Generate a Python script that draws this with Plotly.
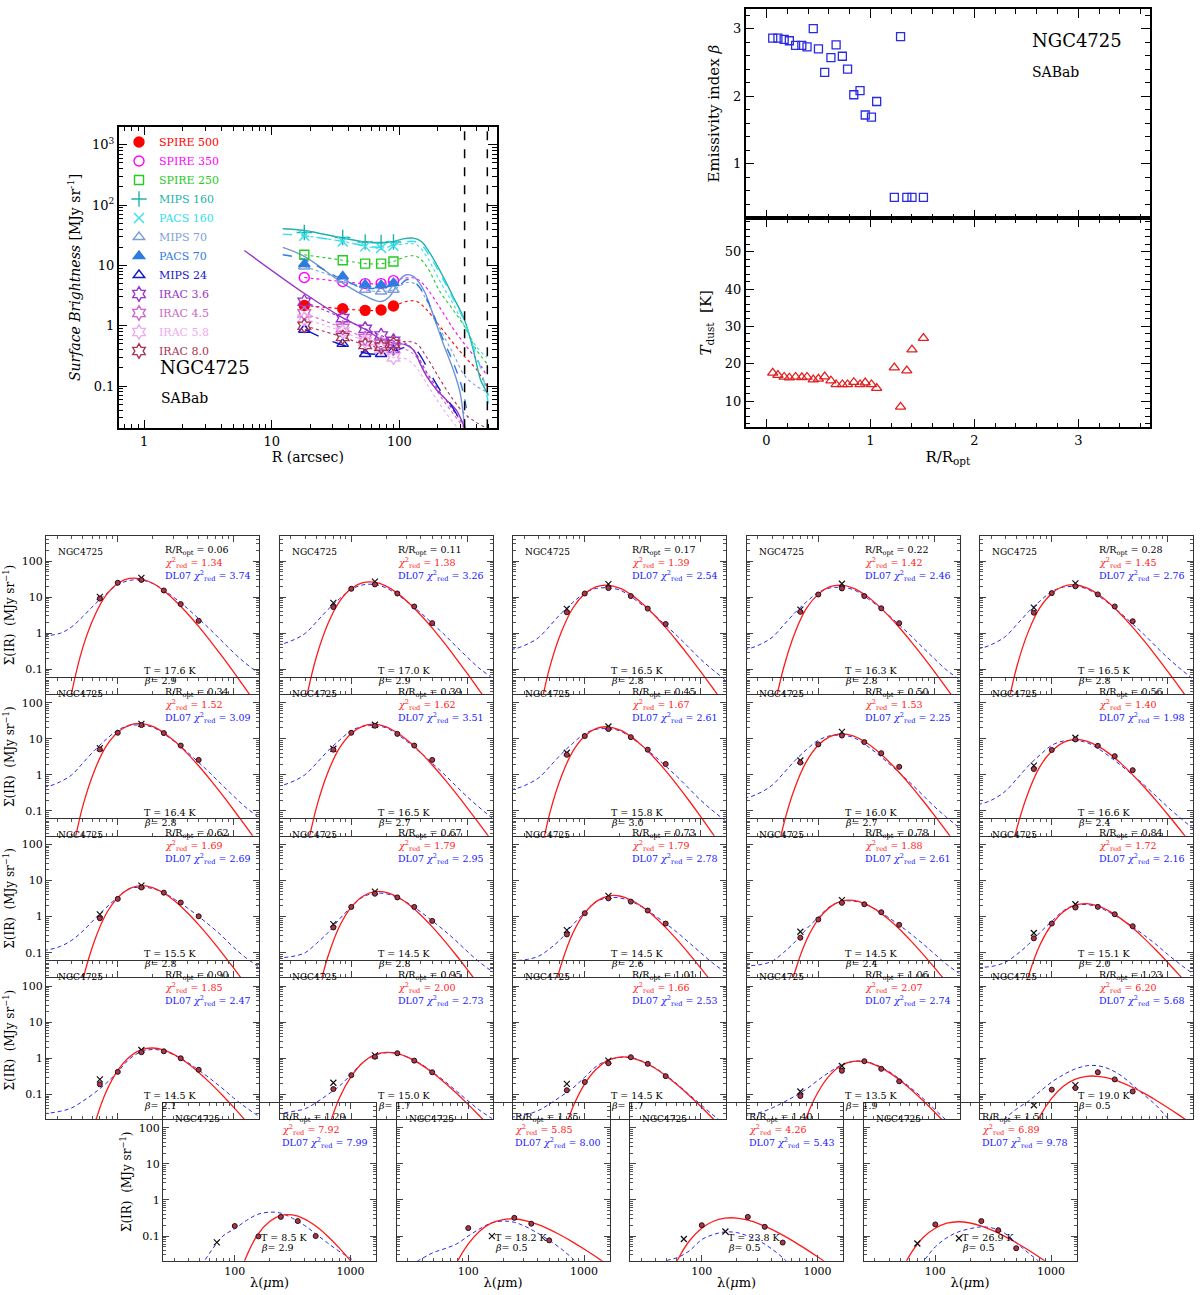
import plotly.graph_objects as go

W, H = 1200, 1295
FONT = "DejaVu Serif"

# ======================= top-left: radial profiles =======================
PROF_R = [18, 36, 54, 72, 90]
SB_SPIRE500 = [2.17, 1.91, 1.80, 1.82, 2.12]
SB_SPIRE350 = [6.3, 5.4, 5.0, 5.0, 5.6]
SB_SPIRE250 = [15.0, 12.2, 10.7, 10.7, 11.6]
SB_MIPS160 = [35.2, 29.1, 24.4, 24.1, 24.4]
SB_PACS160 = [31.0, 25.0, 20.7, 19.4, 21.2]
SB_MIPS70 = [9.6, 5.8, 3.95, 3.7, 3.95]
SB_PACS70 = [10.5, 6.6, 4.8, 4.7, 5.1]
SB_MIPS24 = [0.86, 0.50, 0.34, 0.34, 0.39]
SB_IRAC36 = [2.5, 1.34, 0.89, 0.69, 0.56]
SB_IRAC45 = [1.6, 0.92, 0.62, 0.50, 0.42]
SB_IRAC58 = [1.3, 0.80, 0.55, 0.42, 0.30]
SB_IRAC80 = [1.0, 0.65, 0.48, 0.45, 0.50]

EXT_R = [114, 137, 164, 208, 264, 324, 402, 485]
EXT_SPIRE500 = [2.53, 2.53, 1.84, 0.98, 0.52, 0.31, 0.19, 0.10]
EXT_SPIRE350 = [6.2, 6.0, 4.2, 2.0, 0.9, 0.5, 0.28, 0.15]
EXT_SPIRE250 = [14.1, 14.1, 9.6, 3.7, 1.84, 0.98, 0.4, 0.24]
EXT_PACS160 = [23, 22, 14, 5.5, 2.3, 1.0, 0.45, 0.3]
EXT_MIPS70 = [5.2, 4.8, 2.6, 0.9, 0.35, 0.15, 0.1, 0.08]
EXT_IRAC36 = [0.5, 0.33, 0.17, 0.08, 0.04, 0.022, 0.012, 0.008]
EXT_IRAC45 = [0.4, 0.3, 0.16, 0.07, 0.035, 0.02, 0.012, 0.008]
EXT_IRAC58 = [0.28, 0.2, 0.11, 0.05, 0.025, 0.015, 0.01, 0.007]
EXT_IRAC80 = [0.55, 0.5, 0.3, 0.13, 0.06, 0.035, 0.025, 0.02]

P160_R = [12.2, 18, 36, 55, 72, 91, 107, 129, 149, 174, 220, 264, 324, 380, 434, 470, 500]
MIPS160_PROF = [40.5, 38, 28.4, 24.4, 23.5, 25, 27.6, 28.4, 25, 16, 6.6, 3.06, 1.26, 0.4, 0.126, 0.09, 0.07]
PACS160_PROF = [33, 31, 25, 21, 20, 22, 24, 25, 22, 14, 6, 2.8, 1.2, 0.45, 0.2, 0.1, 0.05]
P70_R = [12.2, 18, 36, 55, 72, 84, 101, 114, 129, 155, 186, 220, 264, 300, 326, 345]
MIPS70_PROF = [19.9, 14.1, 5.1, 3.06, 2.53, 3.06, 5.8, 7.0, 6.6, 3.95, 1.43, 0.52, 0.19, 0.077, 0.021, 0.01]
PACS70_PROF = [15, 12.5, 5.8, 4.2, 4.3, 4.5, 4.8, 5.8, 5.5, 3.5, 1.5, 0.6, 0.25, 0.12, 0.06, 0.03]
IRAC36_R = [6.1, 18.2, 36.3, 54.7, 72.5, 91, 114, 129, 145, 164, 196, 234, 280, 326]
IRAC36_PROF = [17.7, 3.39, 1.34, 0.86, 0.59, 0.52, 0.48, 0.4, 0.24, 0.145, 0.087, 0.059, 0.04, 0.02]
MIPS24_R = [18.2, 27, 36, 55, 72.5, 91, 107, 129, 145, 174, 208, 249, 300, 326]
MIPS24_PROF = [0.86, 0.59, 0.48, 0.35, 0.34, 0.375, 0.43, 0.43, 0.33, 0.164, 0.087, 0.052, 0.027, 0.02]
APERTURE_R = [325, 490]

# ======================= top-right: beta and T profiles =======================
R_OPT = [0.06, 0.11, 0.17, 0.22, 0.28, 0.34, 0.39, 0.45, 0.50, 0.56,
         0.62, 0.67, 0.73, 0.78, 0.84, 0.90, 0.95, 1.01, 1.06, 1.23,
         1.29, 1.35, 1.40, 1.51]
BETA_FIT = [2.86, 2.86, 2.84, 2.82, 2.75, 2.75, 2.73, 3.0, 2.70, 2.35,
            2.57, 2.76, 2.59, 2.40, 2.02, 2.08, 1.72, 1.69, 1.92, 0.50,
            2.88, 0.50, 0.50, 0.50]
T_DUST = [17.6, 17.0, 16.5, 16.3, 16.5, 16.4, 16.5, 15.8, 16.0, 16.6,
          15.5, 14.5, 14.5, 14.5, 15.1, 14.5, 15.0, 14.5, 13.5, 19.0,
          8.5, 18.2, 23.8, 26.9]

# ======================= SED panels =======================
BETA_LABEL = [2.9, 2.9, 2.8, 2.8, 2.8, 2.8, 2.7, 3.0, 2.7, 2.4,
              2.8, 2.8, 2.6, 2.4, 2.0, 2.1, 1.7, 1.7, 1.9, 0.5,
              2.9, 0.5, 0.5, 0.5]
CHI2_MBB = [1.34, 1.38, 1.39, 1.42, 1.45, 1.52, 1.62, 1.67, 1.53, 1.40,
            1.69, 1.79, 1.79, 1.88, 1.72, 1.85, 2.00, 1.66, 2.07, 6.20,
            7.92, 5.85, 4.26, 6.89]
CHI2_DL07 = [3.74, 3.26, 2.54, 2.46, 2.76, 3.09, 3.51, 2.61, 2.25, 1.98,
             2.69, 2.95, 2.78, 2.61, 2.16, 2.47, 2.73, 2.53, 2.74, 5.68,
             7.99, 8.00, 5.43, 9.78]
PHOT_WL = [70, 100, 160, 250, 350, 500]
MIPS_WL = [70, 160]
SED_PHOT = [
    [9.1, 25, 30, 15.3, 6.4, 2.2], [5.3, 17, 22.5, 12.6, 5.5, 1.9],
    [3.8, 12.6, 17.8, 10.7, 4.8, 1.8], [3.9, 11.8, 17.4, 10.7, 4.9, 1.9],
    [3.7, 12.9, 20, 11.9, 5.5, 2.15], [5.1, 14.7, 24, 14.4, 6.5, 2.6],
    [5.0, 14.7, 23, 13.7, 6.5, 2.6], [3.6, 11.9, 18.7, 11.1, 5.0, 2.0],
    [2.2, 7.0, 12.3, 8.1, 4.0, 1.67], [1.45, 4.9, 9.6, 6.4, 3.3, 1.35],
    [0.9, 3.1, 6.4, 4.6, 2.45, 1.02], [0.5, 1.85, 4.3, 3.4, 1.85, 0.76],
    [0.32, 1.24, 3.2, 2.6, 1.47, 0.64], [0.26, 0.83, 2.4, 2.2, 1.32, 0.59],
    [0.25, 0.64, 1.78, 1.86, 1.16, 0.54], [0.19, 0.42, 1.47, 1.56, 1.0, 0.48],
    [0.14, 0.34, 1.1, 1.38, 0.86, 0.41], [0.13, 0.22, 0.73, 1.07, 0.70, 0.32],
    [0.09, None, 0.45, 0.83, 0.51, 0.23], [None, 0.135, 0.15, 0.41, 0.26, 0.12],
    [None, 0.19, 0.098, 0.34, 0.26, 0.10], [None, 0.166, None, 0.32, 0.22, 0.076],
    [None, 0.2, None, 0.34, 0.18, 0.066], [None, 0.21, None, 0.26, 0.145, 0.046],
]
SED_MIPS = [
    [10.2, 34], [6.9, 27], [4.7, 23], [4.5, 23.5], [5.1, 24], [5.5, 26],
    [5.3, 24.5], [4.1, 22], [2.5, 15.5], [1.8, 10.7], [1.15, 7.2], [0.62, 4.9],
    [0.42, 3.75], [0.38, 2.85], [0.35, 2.2], [0.26, 1.7], [0.21, 1.2], [0.195, 0.86],
    [0.12, 0.61], [0.05, 0.18], [0.067, None], [None, 0.10], [0.083, 0.134], [0.062, 0.087],
]
MODEL_WL = [20, 25, 32, 40, 50, 63, 79, 100, 126, 158, 200, 251, 316, 398, 501,
            631, 794, 1000, 1259, 1585, 1995]
N = None
MBB_FIT = [
    [N, N, 0.00045, 0.023, 0.41, 3.0, 11.1, 23.8, 32.9, 32.2, 24.2, 14.8, 7.7, 3.57, 1.52, 0.605, 0.23, 0.084, 0.030, 0.0104, 0.0036],
    [N, N, 0.00017, 0.0109, 0.222, 1.85, 7.5, 17.3, 25.1, 25.9, 20.2, 12.7, 6.8, 3.2, 1.38, 0.553, 0.211, 0.078, 0.0277, 0.0097, 0.0034],
    [N, N, N, 0.0049, 0.118, 1.11, 4.99, 12.3, 19.5, 21.5, 17.7, 11.7, 6.5, 3.18, 1.42, 0.587, 0.231, 0.087, 0.0319, 0.0115, 0.0041],
    [N, N, N, 0.0045, 0.105, 1.05, 4.85, 12.1, 19.4, 21.5, 17.8, 11.8, 6.6, 3.22, 1.44, 0.595, 0.235, 0.089, 0.0325, 0.0117, 0.0042],
    [N, N, N, 0.005, 0.121, 1.14, 5.1, 12.6, 20.0, 22.0, 18.1, 12.0, 6.65, 3.25, 1.45, 0.60, 0.236, 0.089, 0.0326, 0.0118, 0.0042],
    [N, N, N, 0.0058, 0.14, 1.33, 6.05, 15.1, 24.1, 26.7, 22.0, 14.5, 8.1, 3.95, 1.76, 0.73, 0.287, 0.108, 0.0396, 0.0143, 0.005],
    [N, N, N, 0.0051, 0.124, 1.2, 5.5, 14.0, 22.6, 25.5, 21.5, 14.5, 8.3, 4.14, 1.88, 0.80, 0.321, 0.124, 0.0466, 0.0171, 0.0063],
    [N, N, N, 0.0033, 0.0897, 0.935, 4.53, 11.9, 19.4, 21.5, 17.7, 11.5, 6.27, 2.99, 1.29, 0.515, 0.195, 0.0706, 0.0248, 0.0085, 0.003],
    [N, N, N, 0.0014, 0.040, 0.452, 2.34, 6.6, 11.5, 13.7, 12.1, 8.4, 4.9, 2.51, 1.16, 0.497, 0.201, 0.0782, 0.0294, 0.0108, 0.004],
    [N, N, N, 0.0013, 0.0331, 0.341, 1.69, 4.57, 7.94, 9.6, 8.67, 6.27, 3.82, 2.05, 1.0, 0.455, 0.196, 0.081, 0.0326, 0.0128, 0.005],
    [N, N, N, 0.00056, 0.0181, 0.215, 1.16, 3.36, 5.97, 7.2, 6.37, 4.43, 2.56, 1.30, 0.59, 0.249, 0.099, 0.0378, 0.0139, 0.005, 0.0018],
    [N, N, N, N, 0.00514, 0.0794, 0.531, 1.82, 3.66, 4.9, 4.7, 3.48, 2.12, 1.11, 0.519, 0.223, 0.0902, 0.0348, 0.0129, 0.0047, 0.0017],
    [N, N, N, N, 0.0031, 0.0499, 0.349, 1.26, 2.64, 3.70, 3.72, 2.88, 1.84, 1.01, 0.493, 0.222, 0.094, 0.0379, 0.0148, 0.0056, 0.0021],
    [N, N, N, N, 0.00178, 0.0301, 0.221, 0.832, 1.83, 2.69, 2.82, 2.30, 1.53, 0.879, 0.451, 0.212, 0.0942, 0.0398, 0.0162, 0.0065, 0.0026],
    [N, N, N, N, 0.00143, 0.0229, 0.163, 0.604, 1.37, 2.07, 2.29, 1.97, 1.40, 0.865, 0.479, 0.245, 0.118, 0.0543, 0.0242, 0.0105, 0.0046],
    [N, N, N, N, 0.0008, 0.0146, 0.114, 0.461, 1.09, 1.71, 1.93, 1.68, 1.20, 0.738, 0.406, 0.205, 0.0973, 0.0441, 0.0192, 0.0082, 0.0035],
    [N, N, N, N, 0.0006, 0.0104, 0.0791, 0.313, 0.76, 1.24, 1.46, 1.35, 1.03, 0.679, 0.403, 0.221, 0.114, 0.0562, 0.0269, 0.0125, 0.0058],
    [N, N, N, N, 0.00026, 0.0051, 0.0443, 0.196, 0.507, 0.873, 1.08, 1.03, 0.807, 0.545, 0.328, 0.182, 0.0946, 0.047, 0.0225, 0.0105, 0.0049],
    [N, N, N, N, N, 0.0022, 0.0231, 0.118, 0.34, 0.63, 0.818, 0.804, 0.637, 0.428, 0.254, 0.137, 0.0695, 0.0334, 0.0155, 0.007, 0.0032],
    [N, N, N, N, N, 0.0048, 0.0247, 0.0787, 0.168, 0.261, 0.316, 0.317, 0.276, 0.215, 0.155, 0.106, 0.0687, 0.0432, 0.0265, 0.016, 0.0095],
    [N, N, N, N, N, N, 0.00016, 0.00324, 0.027, 0.11, 0.252, 0.372, 0.384, 0.301, 0.189, 0.101, 0.0478, 0.0206, 0.0083, 0.0032, 0.0012],
    [N, N, N, N, N, 0.003, 0.0176, 0.061, 0.139, 0.227, 0.287, 0.297, 0.265, 0.21, 0.154, 0.105, 0.0692, 0.0438, 0.027, 0.0163, 0.0098],
    [N, N, N, 0.00045, 0.0045, 0.0243, 0.0766, 0.164, 0.257, 0.313, 0.316, 0.275, 0.215, 0.156, 0.106, 0.069, 0.0434, 0.0267, 0.0161, 0.0095, 0.0056],
    [N, N, N, 0.0013, 0.0092, 0.0368, 0.0925, 0.164, 0.227, 0.249, 0.23, 0.189, 0.141, 0.0984, 0.0653, 0.0417, 0.0259, 0.0157, 0.0094, 0.0055, 0.0033],
]
DL07_FIT = [
    [0.82, 0.86, 1.0, 1.5, 2.9, 6.2, 12, 22, 29, 30, 24, 15.5, 9.0, 4.9, 2.5, 1.25, 0.6, 0.29, 0.15, 0.085, 0.045],
    [0.475, 0.5, 0.66, 0.99, 2.05, 4.55, 8.95, 16.5, 21.8, 22.5, 18, 11.6, 6.75, 3.67, 1.87, 0.94, 0.45, 0.22, 0.11, 0.063, 0.034],
    [0.35, 0.37, 0.50, 0.76, 1.61, 3.63, 7.14, 13.2, 17.4, 18, 15.8, 10.2, 5.9, 3.2, 1.65, 0.83, 0.4, 0.19, 0.1, 0.055, 0.03],
    [0.35, 0.37, 0.5, 0.77, 1.65, 3.72, 7.35, 13.5, 17.9, 18.5, 16.2, 10.5, 6.1, 3.3, 1.7, 0.85, 0.41, 0.2, 0.1, 0.057, 0.031],
    [0.37, 0.39, 0.53, 0.82, 1.75, 3.93, 7.75, 14.3, 18.9, 19.5, 17.1, 11.0, 6.4, 3.47, 1.79, 0.9, 0.43, 0.21, 0.11, 0.06, 0.032],
    [0.46, 0.48, 0.65, 1.0, 2.14, 4.8, 9.5, 17.5, 23.2, 24, 21, 13.6, 7.9, 4.3, 2.2, 1.1, 0.53, 0.26, 0.13, 0.073, 0.04],
    [0.48, 0.51, 0.68, 1.02, 2.09, 4.66, 9.1, 16.8, 22.2, 23, 20.2, 13.1, 7.6, 4.1, 2.1, 1.06, 0.51, 0.25, 0.13, 0.07, 0.038],
    [0.39, 0.41, 0.55, 0.83, 1.72, 3.84, 7.54, 14.0, 18.4, 19, 16.7, 10.8, 6.2, 3.4, 1.74, 0.88, 0.42, 0.2, 0.105, 0.058, 0.032],
    [0.23, 0.24, 0.33, 0.52, 1.1, 2.5, 5.0, 9.1, 12.1, 12.5, 11.0, 7.1, 4.1, 2.2, 1.15, 0.58, 0.28, 0.135, 0.07, 0.038, 0.021],
    [0.15, 0.16, 0.22, 0.36, 0.78, 1.8, 3.55, 6.6, 8.7, 9.0, 7.9, 5.4, 3.2, 1.8, 0.98, 0.52, 0.26, 0.13, 0.068, 0.037, 0.02],
    [0.114, 0.12, 0.15, 0.22, 0.4, 0.85, 1.75, 3.4, 5.9, 6.5, 6.0, 4.5, 2.9, 1.75, 1.0, 0.55, 0.29, 0.14, 0.075, 0.044, 0.026],
    [0.068, 0.072, 0.08, 0.1, 0.18, 0.36, 0.85, 1.85, 3.5, 4.4, 4.3, 3.4, 2.25, 1.35, 0.76, 0.42, 0.22, 0.11, 0.057, 0.033, 0.02],
    [0.057, 0.06, 0.065, 0.08, 0.13, 0.25, 0.6, 1.3, 2.6, 3.3, 3.3, 2.65, 1.8, 1.1, 0.64, 0.36, 0.19, 0.1, 0.053, 0.031, 0.019],
    [0.041, 0.043, 0.047, 0.058, 0.1, 0.2, 0.45, 0.95, 1.9, 2.6, 2.7, 2.25, 1.55, 0.98, 0.58, 0.33, 0.18, 0.095, 0.05, 0.029, 0.018],
    [0.037, 0.039, 0.043, 0.055, 0.09, 0.17, 0.36, 0.74, 1.45, 2.05, 2.15, 1.85, 1.3, 0.85, 0.52, 0.3, 0.17, 0.09, 0.05, 0.029, 0.018],
    [0.028, 0.03, 0.034, 0.042, 0.065, 0.11, 0.2, 0.42, 0.95, 1.5, 1.75, 1.6, 1.18, 0.78, 0.47, 0.27, 0.15, 0.08, 0.045, 0.027, 0.017],
    [0.028, 0.03, 0.034, 0.04, 0.06, 0.1, 0.17, 0.36, 0.78, 1.2, 1.42, 1.35, 1.03, 0.7, 0.42, 0.24, 0.13, 0.07, 0.038, 0.023, 0.014],
    [0.022, 0.024, 0.028, 0.036, 0.055, 0.09, 0.15, 0.3, 0.6, 0.88, 1.05, 1.05, 0.82, 0.56, 0.34, 0.19, 0.1, 0.053, 0.028, 0.016, 0.01],
    [0.024, 0.027, 0.032, 0.042, 0.06, 0.09, 0.14, 0.25, 0.42, 0.65, 0.82, 0.82, 0.66, 0.45, 0.27, 0.15, 0.08, 0.04, 0.02, 0.011, 0.006],
    [0.002, 0.004, 0.01, 0.022, 0.04, 0.065, 0.12, 0.22, 0.35, 0.5, 0.62, 0.62, 0.5, 0.33, 0.18, 0.095, 0.05, 0.022, 0.01, 0.004, 0.002],
    [N, N, 0.003, 0.007, 0.014, 0.04, 0.1, 0.16, 0.27, 0.4, 0.46, 0.43, 0.31, 0.2, 0.115, 0.065, 0.038, 0.024, 0.014, 0.008, 0.004],
    [0.006, 0.01, 0.016, 0.024, 0.035, 0.045, 0.06, 0.1, 0.16, 0.23, 0.26, 0.24, 0.18, 0.12, 0.076, 0.045, 0.024, 0.012, 0.006, 0.003, 0.0015],
    [0.007, 0.009, 0.012, 0.016, 0.021, 0.026, 0.04, 0.08, 0.11, 0.13, 0.125, 0.1, 0.072, 0.045, 0.025, 0.012, 0.006, 0.003, N, N, N],
    [N, N, N, N, N, 0.008, 0.02, 0.05, 0.09, 0.13, 0.16, 0.18, 0.165, 0.12, 0.065, 0.035, 0.019, 0.009, 0.004, N, N],
]
GALAXY = "NGC4725"
HUBBLE_TYPE = "SABab"

# ======================= figure =======================
def dx(l, r):
    return [l / W, r / W]


def dy(t, b):
    return [1 - b / H, 1 - t / H]


def minor_log(lo, hi):
    return [m * 10.0 ** e for e in range(lo, hi) for m in range(2, 10)]


fig = go.Figure()
annotations = []
shapes = []
lay = dict(width=W, height=H, margin=dict(l=0, r=0, t=0, b=0, pad=0, autoexpand=False),
           paper_bgcolor="white", plot_bgcolor="rgba(0,0,0,0)",
           font=dict(family=FONT, color="black"), hovermode=False,
           showlegend=True)

# ---------- top-left panel ----------
ax_common = dict(showline=True, linecolor="black", linewidth=1.5, mirror="allticks",
                 ticks="inside", tickcolor="black", tickwidth=1.2, showgrid=False,
                 zeroline=False, automargin=False)
lay["xaxis"] = dict(ax_common, domain=dx(118.7, 497), type="log", range=[-0.2, 2.766], anchor="y",
                    tickvals=[1, 10, 100], ticktext=["1", "10", "100"], ticklen=9,
                    minor=dict(tickvals=minor_log(-1, 3), ticks="inside", ticklen=5, tickcolor="black"),
                    tickfont=dict(size=13),
                    title=dict(text="R (arcsec)", font=dict(size=14), standoff=4))
lay["yaxis"] = dict(ax_common, domain=dy(126.7, 428.3), type="log", range=[-1.70, 3.30], anchor="x",
                    tickvals=[0.1, 1, 10, 100, 1000],
                    ticktext=["0.1", "1", "10", "10<sup>2</sup>", "10<sup>3</sup>"], ticklen=9,
                    minor=dict(tickvals=minor_log(-2, 4), ticks="inside", ticklen=5, tickcolor="black"),
                    tickfont=dict(size=13),
                    title=dict(text="<i>Surface Brightness</i> [MJy sr<sup>-1</sup>]",
                               font=dict(size=14), standoff=8))

bands = [
    ("SPIRE 500", "#ff0000", "circle", 10, SB_SPIRE500, EXT_SPIRE500),
    ("SPIRE 350", "#ff00ff", "circle-open", 10, SB_SPIRE350, EXT_SPIRE350),
    ("SPIRE 250", "#22cc22", "square-open", 9, SB_SPIRE250, EXT_SPIRE250),
    ("MIPS 160", "#20b2aa", "cross-thin-open", 11, SB_MIPS160, None),
    ("PACS 160", "#33dded", "x-thin-open", 10, SB_PACS160, EXT_PACS160),
    ("MIPS 70", "#7c9fdc", "triangle-up-open", 10, SB_MIPS70, EXT_MIPS70),
    ("PACS 70", "#2f7be0", "triangle-up", 10, SB_PACS70, None),
    ("MIPS 24", "#1515cc", "triangle-up-open", 10, SB_MIPS24, None),
    ("IRAC 3.6", "#9933cc", "hexagram-open", 11, SB_IRAC36, EXT_IRAC36),
    ("IRAC 4.5", "#cc66cc", "hexagram-open", 11, SB_IRAC45, EXT_IRAC45),
    ("IRAC 5.8", "#eeaaee", "hexagram-open", 11, SB_IRAC58, EXT_IRAC58),
    ("IRAC 8.0", "#aa3355", "hexagram-open", 11, SB_IRAC80, EXT_IRAC80),
]

# dotted data-connecting lines
for name, col, sym, sz, vals, ext in bands:
    if ext is not None:
        fig.add_trace(go.Scatter(x=PROF_R + EXT_R, y=vals + ext, mode="lines", xaxis="x", yaxis="y",
                                 line=dict(color=col, width=1.1, dash="dot", shape="spline"),
                                 showlegend=False))
# model / profile lines
profile_lines = [
    (P160_R, MIPS160_PROF, "#20b2aa", "solid"),
    (P160_R, PACS160_PROF, "#33dded", "dash"),
    (P70_R, MIPS70_PROF, "#6f95d6", "solid"),
    (P70_R, PACS70_PROF, "#2f7be0", "dash"),
    (IRAC36_R, IRAC36_PROF, "#9933cc", "solid"),
    (MIPS24_R, MIPS24_PROF, "#1515cc", "longdash"),
]
for xs, ys, col, dash in profile_lines:
    fig.add_trace(go.Scatter(x=xs, y=ys, mode="lines", xaxis="x", yaxis="y",
                             line=dict(color=col, width=1.4, dash=dash, shape="spline"),
                             showlegend=False))
# markers (legend entries)
for name, col, sym, sz, vals, ext in bands:
    fig.add_trace(go.Scatter(x=PROF_R, y=vals, mode="markers", xaxis="x", yaxis="y",
                             marker=dict(symbol=sym, size=sz, color=col, line=dict(color=col, width=1.4)),
                             name="<span style='color:%s'>%s</span>" % (col, name)))

for rv in APERTURE_R:
    shapes.append(dict(type="line", xref="x", yref="y domain", x0=rv, x1=rv, y0=0, y1=1,
                       line=dict(color="black", width=1.5, dash="dash")))

annotations.append(dict(text=GALAXY, xref="paper", yref="paper", x=158 / W, y=1 - 368 / H,
                        xanchor="left", yanchor="middle", showarrow=False, font=dict(size=18)))
annotations.append(dict(text=HUBBLE_TYPE, xref="paper", yref="paper", x=159 / W, y=1 - 398 / H,
                        xanchor="left", yanchor="middle", showarrow=False, font=dict(size=14)))

lay["legend"] = dict(x=119 / W, y=1 - 127.5 / H, xanchor="left", yanchor="top",
                     bgcolor="rgba(0,0,0,0)", font=dict(size=11, family=FONT),
                     tracegroupgap=0, itemwidth=30)

# ---------- top-right panels ----------
tr_x = dx(745.7, 1150)
lay["xaxis2"] = dict(ax_common, domain=tr_x, range=[-0.2, 3.69], anchor="y2",
                     tickvals=[0, 1, 2, 3], showticklabels=False, ticklen=9,
                     minor=dict(dtick=0.2, ticks="inside", ticklen=5, tickcolor="black"))
lay["yaxis2"] = dict(ax_common, domain=dy(9, 218.3), range=[0.19, 3.29], anchor="x2",
                     tickvals=[1, 2, 3], ticklen=9, tickfont=dict(size=13),
                     minor=dict(dtick=0.2, ticks="inside", ticklen=5, tickcolor="black"),
                     title=dict(text="Emissivity index <i>β</i>", font=dict(size=15), standoff=10))
lay["xaxis3"] = dict(ax_common, domain=tr_x, range=[-0.2, 3.69], anchor="y3",
                     tickvals=[0, 1, 2, 3], ticklen=9, tickfont=dict(size=13),
                     minor=dict(dtick=0.2, ticks="inside", ticklen=5, tickcolor="black"),
                     title=dict(text="R/R<sub>opt</sub>", font=dict(size=15), standoff=4))
lay["yaxis3"] = dict(ax_common, domain=dy(218.3, 427.3), range=[3.05, 58.9], anchor="x3",
                     tickvals=[10, 20, 30, 40, 50], ticklen=9, tickfont=dict(size=13),
                     minor=dict(dtick=2, ticks="inside", ticklen=5, tickcolor="black"),
                     title=dict(text="<i>T</i><sub>dust</sub>  [K]", font=dict(size=15), standoff=10))
fig.add_trace(go.Scatter(x=R_OPT, y=BETA_FIT, mode="markers", xaxis="x2", yaxis="y2",
                         marker=dict(symbol="square-open", size=8, color="#2a2ae0", line=dict(width=1.3)),
                         showlegend=False))
fig.add_trace(go.Scatter(x=R_OPT, y=T_DUST, mode="markers", xaxis="x3", yaxis="y3",
                         marker=dict(symbol="triangle-up-open", size=9, color="#e02020", line=dict(width=1.3)),
                         showlegend=False))
annotations.append(dict(text=GALAXY, xref="paper", yref="paper", x=1030 / W, y=1 - 40 / H,
                        xanchor="left", yanchor="middle", showarrow=False, font=dict(size=18)))
annotations.append(dict(text=HUBBLE_TYPE, xref="paper", yref="paper", x=1030 / W, y=1 - 72 / H,
                        xanchor="left", yanchor="middle", showarrow=False, font=dict(size=14)))

# ---------- SED grid ----------
XR = [1.38, 3.22]
YR = [-1.686, 2.694]
sed_frame = dict(showline=True, linecolor="#333333", linewidth=1, mirror="allticks",
                 ticks="inside", tickcolor="#444444", showgrid=False, zeroline=False,
                 automargin=False)
for i in range(len(R_OPT)):
    n = i + 4
    if i < 20:
        row, col = divmod(i, 5)
        left = 46 + 233.5 * col
    else:
        row, col = 4, i - 20
        left = 163 + 233.5 * col
    top = 536 + 141.7 * row
    xa = dict(sed_frame, domain=dx(left, left + 213), type="log", range=XR, anchor="y%d" % n,
              tickvals=[100, 1000], ticktext=["100", "1000"], ticklen=6,
              showticklabels=(row == 4), tickfont=dict(size=11),
              minor=dict(tickvals=minor_log(1, 4), ticks="inside", ticklen=3, tickcolor="#555555"))
    if row == 4:
        xa["title"] = dict(text="λ(<i>μ</i>m)", font=dict(size=13), standoff=0)
    ya = dict(sed_frame, domain=dy(top, top + 158), type="log", range=YR, anchor="x%d" % n,
              tickvals=[0.1, 1, 10, 100], ticktext=["0.1", "1", "10", "100"], ticklen=6,
              showticklabels=(col == 0), tickfont=dict(size=11),
              minor=dict(tickvals=minor_log(-2, 3), ticks="inside", ticklen=3, tickcolor="#555555"))
    if col == 0:
        ya["title"] = dict(text="Σ(IR)  (MJy sr<sup>−1</sup>)", font=dict(size=12), standoff=4)
    lay["xaxis%d" % n] = xa
    lay["yaxis%d" % n] = ya
    xr, yr = "x%d" % n, "y%d" % n

    fig.add_trace(go.Scatter(x=MODEL_WL, y=DL07_FIT[i], mode="lines", xaxis=xr, yaxis=yr,
                             line=dict(color="#2a2ae8", width=1, dash="4px,3px", shape="spline"),
                             showlegend=False))
    fig.add_trace(go.Scatter(x=MODEL_WL, y=MBB_FIT[i], mode="lines", xaxis=xr, yaxis=yr,
                             line=dict(color="#ff1a1a", width=1.3, shape="spline"),
                             showlegend=False))
    fig.add_trace(go.Scatter(x=MIPS_WL, y=SED_MIPS[i], mode="markers", xaxis=xr, yaxis=yr,
                             marker=dict(symbol="x-thin-open", size=6, color="#111111", line=dict(width=1.2)),
                             showlegend=False))
    fig.add_trace(go.Scatter(x=PHOT_WL, y=SED_PHOT[i], mode="markers", xaxis=xr, yaxis=yr,
                             marker=dict(symbol="circle", size=5, color="#a83844",
                                         line=dict(color="#2a0a18", width=1)),
                             showlegend=False))

    def ann(text, x, y, color="black", size=9.5):
        annotations.append(dict(text=text, xref=xr, yref=yr, x=x, y=y, xanchor="left",
                                yanchor="middle", showarrow=False,
                                font=dict(size=size, color=color, family=FONT)))

    ann(GALAXY, 1.47, 2.25, size=9)
    ann("R/R<sub>opt</sub> = %.2f" % R_OPT[i], 2.39, 2.296)
    ann("<i>χ</i><sup>2</sup><sub>red</sub> = %.2f" % CHI2_MBB[i], 2.39, 1.944, color="#ff2020")
    ann("DL07 <i>χ</i><sup>2</sup><sub>red</sub> = %.2f" % CHI2_DL07[i], 2.39, 1.583, color="#2020ff")
    ann("T = %.1f K" % T_DUST[i], 2.21, -1.03)
    ann("<i>β</i>= %.1f" % BETA_LABEL[i], 2.21, -1.31)

lay["annotations"] = annotations
lay["shapes"] = shapes
fig.update_layout(**lay)
# the page body has a default 8px margin; remove it so the figure fills the window exactly
fig.write_html("out.html", config={"displayModeBar": False},
               post_script="document.body.style.margin='0px';document.body.style.overflow='hidden';")
